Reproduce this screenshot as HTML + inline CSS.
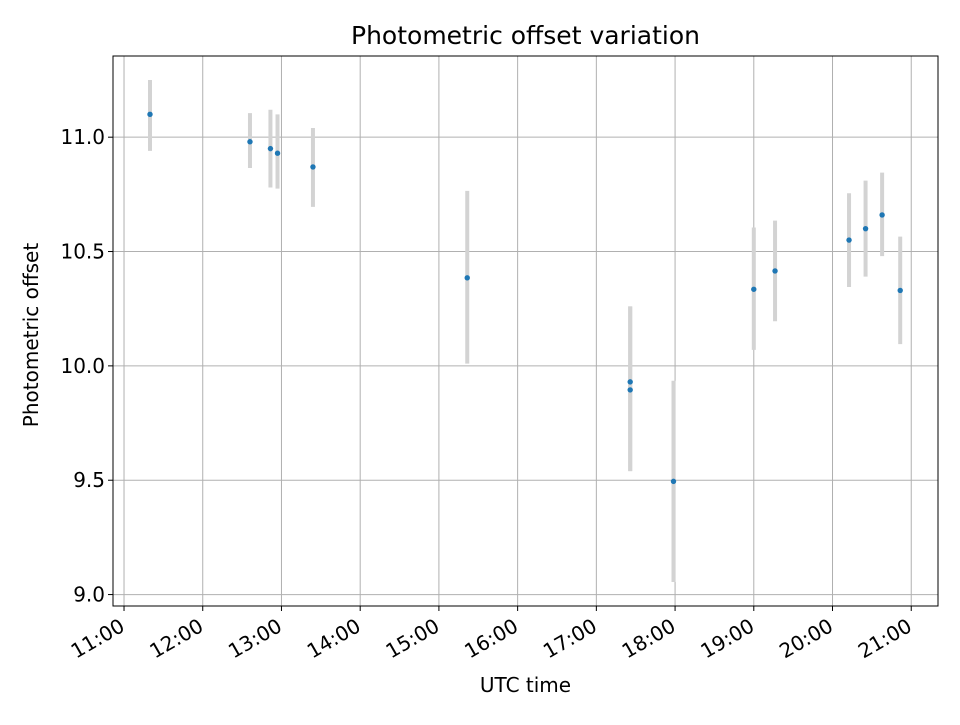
<!DOCTYPE html>
<html><head><meta charset="utf-8">
<style>
body{margin:0;background:#fff;}
svg text{font-family:"DejaVu Sans","Liberation Sans",sans-serif;fill:#000;}
</style></head>
<body>
<svg id="chart" width="960" height="720">
<g id="grid"></g>
<g id="errs"></g>
<g id="pts"></g>
<g id="axes"></g>
</svg>
<script>
const times = [11.33,12.60,12.86,12.95,13.40,15.36,17.43,17.43,17.98,19.00,19.27,20.21,20.42,20.63,20.86];
const values = [11.10,10.98,10.95,10.93,10.87,10.385,9.93,9.895,9.495,10.335,10.415,10.55,10.60,10.66,10.33];
const errLow = [0.16,0.115,0.17,0.155,0.175,0.375,0.39,0.355,0.44,0.265,0.22,0.205,0.21,0.18,0.235];
const errHigh = [0.15,0.125,0.17,0.17,0.17,0.38,0.33,0.365,0.44,0.27,0.22,0.205,0.21,0.185,0.235];
const xTicks = [11,12,13,14,15,16,17,18,19,20,21];
const xTickLabels = ["11:00","12:00","13:00","14:00","15:00","16:00","17:00","18:00","19:00","20:00","21:00"];
const yTicks = [9.0,9.5,10.0,10.5,11.0];
const yTickLabels = ["9.0","9.5","10.0","10.5","11.0"];

const L=113,R=938,T=56,B=606;
const X0=10.86,X1=21.34,Y0=8.95,Y1=11.355;
const sx=v=>L+(v-X0)/(X1-X0)*(R-L);
const sy=v=>B-(v-Y0)/(Y1-Y0)*(B-T);
const NS="http://www.w3.org/2000/svg";
function mk(tag,attrs,parent,txt){const e=document.createElementNS(NS,tag);for(const k in attrs)e.setAttribute(k,attrs[k]);if(txt!==undefined)e.textContent=txt;document.getElementById(parent).appendChild(e);return e;}

xTicks.forEach((t,i)=>{
  const x=sx(t);
  const g=mk('line',{x1:x,x2:x,y1:T,y2:B,stroke:'#b0b0b0','stroke-width':1},'grid');
  
  const tk=mk('line',{x1:x,x2:x,y1:B,y2:B+5,stroke:'#000','stroke-width':1},'axes');
  
  const lb=mk('text',{x:x+2,y:B+24,'font-size':'20','text-anchor':'end',transform:`rotate(-30 ${x+2} ${B+24})`},'axes',xTickLabels[i]);
  
});
yTicks.forEach((t,i)=>{
  const y=sy(t);
  const g=mk('line',{x1:L,x2:R,y1:y,y2:y,stroke:'#b0b0b0','stroke-width':1},'grid');
  
  const tk=mk('line',{x1:L-5,x2:L,y1:y,y2:y,stroke:'#000','stroke-width':1},'axes');
  
  const lb=mk('text',{x:L-8,y:y+7,'font-size':'20','text-anchor':'end'},'axes',yTickLabels[i]);
  
});
times.forEach((t,i)=>{
  const x=sx(t);
  const e=mk('line',{x1:x,x2:x,y1:sy(values[i]-errLow[i]),y2:sy(values[i]+errHigh[i]),stroke:'#d3d3d3','stroke-width':4},'errs');
  
  const p=mk('circle',{cx:x,cy:sy(values[i]),r:2.7,fill:'#1f77b4'},'pts');
  
});
const fr=mk('rect',{x:L,y:T,width:R-L,height:B-T,fill:'none',stroke:'#000','stroke-width':1},'axes');

const ti=mk('text',{x:(L+R)/2,y:44,'font-size':'25','text-anchor':'middle'},'axes','Photometric offset variation');

const xl=mk('text',{x:(L+R)/2,y:692,'font-size':'20','text-anchor':'middle'},'axes','UTC time');

const yl=mk('text',{x:38,y:(T+B)/2+4,'font-size':'20','text-anchor':'middle',transform:`rotate(-90 38 ${(T+B)/2+4})`},'axes','Photometric offset');

</script>
</body></html>
